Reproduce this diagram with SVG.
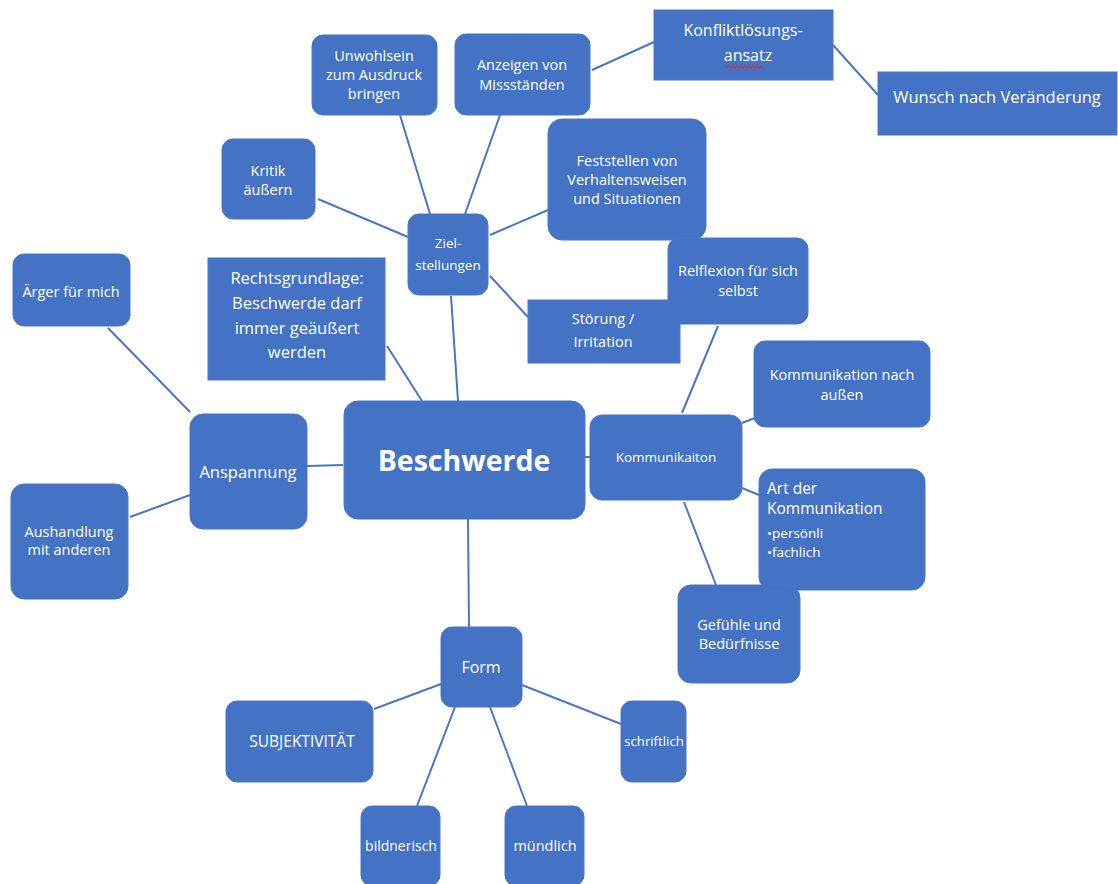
<svg xmlns="http://www.w3.org/2000/svg" width="1118" height="884" viewBox="0 0 1118 884">
<style>
.n{fill:#4472c4;stroke:#4a76c6;stroke-width:1}
.t{fill:#ffffff;font-family:"Open Sans","Liberation Sans",sans-serif;font-size:14.5px;text-anchor:middle}
.c line{stroke:#4a76c6;stroke-width:2}
</style>
<rect width="1118" height="884" fill="#ffffff"/>
<g class="c" id="connectors">
<line x1="400" y1="115" x2="430" y2="214"/>
<line x1="500" y1="115" x2="465" y2="214"/>
<line x1="592" y1="70" x2="654" y2="42"/>
<line x1="833" y1="45" x2="878" y2="95"/>
<line x1="318" y1="199" x2="408" y2="237"/>
<line x1="548" y1="210" x2="490" y2="235"/>
<line x1="490" y1="276" x2="528" y2="317"/>
<line x1="451" y1="296" x2="458" y2="401"/>
<line x1="387" y1="346" x2="422" y2="401"/>
<line x1="108" y1="328" x2="190" y2="412"/>
<line x1="307" y1="466" x2="343" y2="465"/>
<line x1="130" y1="517" x2="190" y2="495"/>
<line x1="585" y1="457" x2="590" y2="457"/>
<line x1="718" y1="326" x2="682" y2="413"/>
<line x1="742" y1="423" x2="755" y2="418"/>
<line x1="742" y1="488" x2="759" y2="495"/>
<line x1="684" y1="502" x2="716" y2="585"/>
<line x1="468" y1="519" x2="469" y2="627"/>
<line x1="441" y1="684" x2="374" y2="709"/>
<line x1="455" y1="707" x2="417" y2="806"/>
<line x1="490" y1="707" x2="527" y2="806"/>
<line x1="522" y1="685" x2="621" y2="724"/>
</g>
<g id="unwohlsein"><rect class="n" x="312" y="35" width="125" height="80" rx="11"/>
<text class="t" x="374" y="61">Unwohlsein</text><text class="t" x="374" y="80">zum Ausdruck</text><text class="t" x="374" y="99">bringen</text></g>
<g id="anzeigen"><rect class="n" x="455" y="34" width="135" height="81" rx="11"/>
<text class="t" x="522" y="70">Anzeigen von</text><text class="t" x="522" y="90">Missständen</text></g>
<g id="konflikt"><rect class="n" x="654" y="10" width="179" height="70"/>
<text class="t" x="743" y="36" style="font-size:16px">Konfliktlösungs-</text><text class="t" x="748" y="61" style="font-size:16px">ansatz</text>
<path d="M725 66 l2 2 l2 -2 l2 2 l2 -2 l2 2 l2 -2 l2 2 l2 -2 l2 2 l2 -2 l2 2 l2 -2 l2 2 l2 -2 l2 2 l2 -2 l2 2 l2 -2 l2 2" fill="none" stroke="#d23030" stroke-width="1.2"/></g>
<g id="wunsch"><rect class="n" x="878" y="72" width="239" height="63"/>
<text class="t" x="997" y="103" style="font-size:16.5px">Wunsch nach Veränderung</text></g>
<g id="kritik"><rect class="n" x="222" y="139" width="93" height="80" rx="11"/>
<text class="t" x="268" y="176">Kritik</text><text class="t" x="268" y="195">äußern</text></g>
<g id="feststellen"><rect class="n" x="548" y="119" width="158" height="121" rx="14"/>
<text class="t" x="627" y="166">Feststellen von</text><text class="t" x="627" y="185">Verhaltensweisen</text><text class="t" x="627" y="204">und Situationen</text></g>
<g id="ziel"><rect class="n" x="408" y="214" width="80" height="81" rx="11"/>
<text class="t" x="448" y="248" style="font-size:13.5px">Ziel-</text><text class="t" x="448" y="270" style="font-size:13.5px">stellungen</text></g>
<g id="rechtsgrundlage"><rect class="n" x="208" y="258" width="177" height="122"/>
<text class="t" x="297" y="284" style="font-size:16.5px">Rechtsgrundlage:</text><text class="t" x="297" y="309" style="font-size:16.5px">Beschwerde darf</text><text class="t" x="297" y="334" style="font-size:16.5px">immer geäußert</text><text class="t" x="297" y="358" style="font-size:16.5px">werden</text></g>
<g id="aerger"><rect class="n" x="13" y="254" width="117" height="72" rx="11"/>
<text class="t" x="71" y="297">Ärger für mich</text></g>
<g id="stoerung"><rect class="n" x="528" y="300" width="152" height="63"/>
<text class="t" x="603" y="324">Störung /</text><text class="t" x="603" y="347">Irritation</text></g>
<g id="reflexion"><rect class="n" x="668" y="238" width="140" height="86" rx="11"/>
<text class="t" x="738" y="276">Relflexion für sich</text><text class="t" x="738" y="296">selbst</text></g>
<g id="komm-aussen"><rect class="n" x="754" y="341" width="176" height="86" rx="11"/>
<text class="t" x="842" y="380">Kommunikation nach</text><text class="t" x="842" y="400">außen</text></g>
<g id="beschwerde"><rect class="n" x="344" y="401" width="241" height="118" rx="14"/>
<text class="t" x="464" y="471" style="font-size:28.5px;font-weight:bold">Beschwerde</text></g>
<g id="anspannung"><rect class="n" x="190" y="414" width="117" height="115" rx="13"/>
<text class="t" x="248" y="478" style="font-size:16.5px">Anspannung</text></g>
<g id="kommunikaiton"><rect class="n" x="590" y="415" width="152" height="85" rx="12"/>
<text class="t" x="666" y="462" style="font-size:13.5px">Kommunikaiton</text></g>
<g id="aushandlung"><rect class="n" x="11" y="484" width="117" height="115" rx="13"/>
<text class="t" x="69" y="537">Aushandlung</text><text class="t" x="69" y="555">mit anderen</text></g>
<g id="art"><rect class="n" x="759" y="469" width="166" height="121" rx="13"/>
<text class="t" x="767" y="494" style="font-size:15.5px;text-anchor:start">Art der</text><text class="t" x="767" y="514" style="font-size:15.5px;text-anchor:start">Kommunikation</text>
<text class="t" x="767" y="538" style="font-size:13.5px;text-anchor:start">•persönli</text><text class="t" x="767" y="557" style="font-size:13.5px;text-anchor:start">•fachlich</text></g>
<g id="gefuehle"><rect class="n" x="678" y="585" width="122" height="98" rx="13"/>
<text class="t" x="739" y="630">Gefühle und</text><text class="t" x="739" y="649">Bedürfnisse</text></g>
<g id="form"><rect class="n" x="441" y="627" width="81" height="80" rx="11"/>
<text class="t" x="481" y="673" style="font-size:16px">Form</text></g>
<g id="subjektivitaet"><rect class="n" x="226" y="701" width="147" height="81" rx="11"/>
<text class="t" x="302" y="747" style="font-size:15.5px">SUBJEKTIVITÄT</text></g>
<g id="schriftlich"><rect class="n" x="621" y="701" width="65" height="81" rx="11"/>
<text class="t" x="654" y="746" style="font-size:13.2px">schriftlich</text></g>
<g id="bildnerisch"><rect class="n" x="361" y="806" width="79" height="80" rx="11"/>
<text class="t" x="401" y="851" style="font-size:14px">bildnerisch</text></g>
<g id="muendlich"><rect class="n" x="505" y="806" width="79" height="80" rx="11"/>
<text class="t" x="545" y="851" style="font-size:14.5px">mündlich</text></g>
</svg>
